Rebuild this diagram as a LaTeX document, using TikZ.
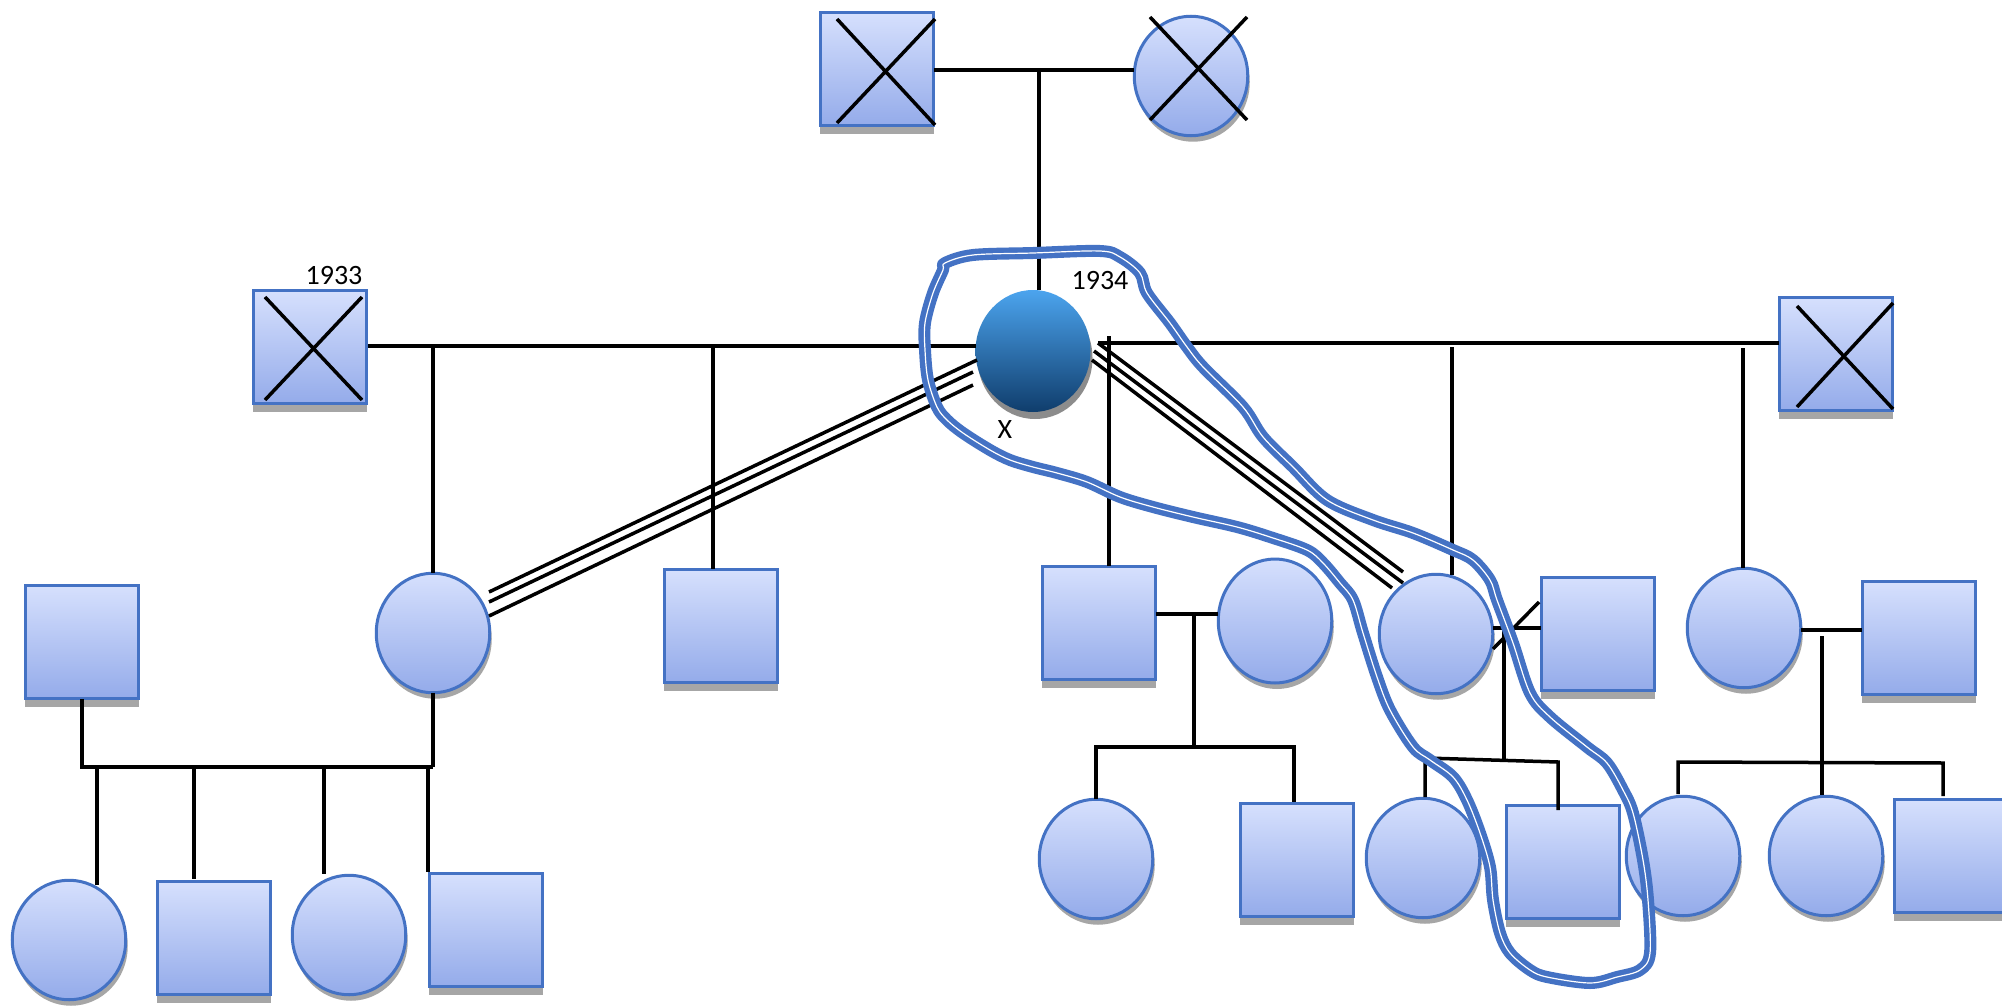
\documentclass[tikz,border=0pt]{standalone}
\usepackage{fontspec}
\setmainfont{Carlito}
\usetikzlibrary{shapes.geometric,shadows,calc}
\definecolor{nodeblue}{HTML}{4472C4}
\definecolor{fillTop}{HTML}{D6E0FD}
\definecolor{fillBot}{HTML}{94ABEA}
\definecolor{probTop}{HTML}{4CA4EE}
\definecolor{probBot}{HTML}{0F3D6C}
\definecolor{shadowgrey}{HTML}{A6A6A6}
\definecolor{loopblue}{HTML}{4472C4}
\def\looppts{
 (945,263) (973,255) (1033,253) (1100,251) (1120,257) (1140,273) (1147,293)
 (1170,323) (1187,347) (1203,367) (1243,407) (1263,437) (1293,467) (1327,500)
 (1373,520) (1413,533) (1453,550) (1473,560) (1490,580) (1497,600) (1513,643)
 (1530,693) (1550,717) (1587,747) (1607,763) (1623,790) (1633,813) (1643,860)
 (1648,900) (1650,953) (1640,970) (1617,977) (1590,983) (1547,977) (1530,970)
 (1510,953) (1500,933) (1493,900) (1490,867) (1480,833) (1467,800) (1453,777)
 (1430,760) (1413,747) (1390,710) (1377,677) (1363,633) (1353,600) (1340,583)
 (1323,563) (1307,550) (1270,537) (1237,527) (1193,517) (1153,507) (1120,497)
 (1087,482) (1057,473) (1033,467) (1010,460) (990,450) (963,433) (947,420)
 (937,407) (928,380) (925,350) (925,323) (933,293) (943,270)}
\begin{document}
\begin{tikzpicture}[x=1pt,y=-1pt,
  sqr/.style={rectangle, draw=nodeblue, line width=3pt, top color=fillTop, bottom color=fillBot,
    minimum width=113.5pt, minimum height=113.5pt, inner sep=0pt, outer sep=0pt,
    drop shadow={shadow xshift=0pt, shadow yshift=-8pt, fill=shadowgrey, opacity=1}},
  crc/.style={ellipse, draw=nodeblue, line width=3pt, top color=fillTop, bottom color=fillBot,
    minimum width=113.5pt, minimum height=119.5pt, inner sep=0pt, outer sep=0pt,
    drop shadow={shadow xshift=2pt, shadow yshift=-6pt, fill=shadowgrey, opacity=1}},
  prob/.style={ellipse, draw=none, top color=probTop, bottom color=probBot,
    minimum width=115pt, minimum height=122pt, inner sep=0pt, outer sep=0pt,
    drop shadow={shadow xshift=2pt, shadow yshift=-7pt, fill=black!45, opacity=1}},
  ln/.style={line width=3.5pt, black},
  crossln/.style={line width=3.5pt, black},
  lbl/.style={font=\fontsize{28}{30}\selectfont, inner sep=0pt},
  handouter/.style={draw=loopblue, line width=12pt, line join=round},
  handinner/.style={draw=white, line width=1.2pt, line join=round}
]
\useasboundingbox (0,0) rectangle (2002,1006);
\fill[white] (0,0) rectangle (2002,1006);

% ---- generation I
\node[sqr] (TS) at (877,69) {};
\node[crc] (TC) at (1191,76) {};
% ---- generation II
\node[sqr] (LS) at (310,347) {};
\node[prob] (P) at (1033,351) {};
\node[sqr] (RS) at (1836,354) {};
% ---- generation III
\node[sqr] (LL) at (82,642) {};
\node[crc] (C2a) at (433,633) {};
\node[sqr] (S2b) at (721,626) {};
\node[sqr] (S2c) at (1099,623) {};
\node[crc, minimum height=124pt] (C2d) at (1275,621) {};
\node[crc] (C2e) at (1436,634) {};
\node[sqr] (S2f) at (1598,634) {};
\node[crc] (C2g) at (1744,628) {};
\node[sqr] (S2h) at (1919,638) {};
% ---- generation IV
\node[crc] (L3a) at (69,940) {};
\node[sqr] (L3b) at (214,938) {};
\node[crc] (L3c) at (349,935) {};
\node[sqr] (L3d) at (486,930) {};
\node[crc] (C3a) at (1096,859) {};
\node[sqr] (S3b) at (1297,860) {};
\node[crc] (C3c) at (1423,858) {};
\node[sqr] (S3d) at (1563,862) {};
\node[crc] (C3e) at (1683,856) {};
\node[crc] (C3f) at (1826,856) {};
\node[sqr] (S3g) at (1951,856) {};

% ---- deceased crosses
\draw[crossln] (837,19) -- (935,125) (935,19) -- (837,123);
\draw[crossln] (1150,17) -- (1247,120) (1247,17) -- (1150,120);
\draw[crossln] (265,297) -- (362,400) (362,297) -- (265,400);
\draw[crossln] (1797,306) -- (1893,409) (1893,303) -- (1797,407);

% ---- labels
\node[lbl] (t1933) at (334,276) {1933};
\node[lbl] (t1934) at (1100,281) {1934};
\node[lbl] (tX) at (1005,430) {X};

% ---- generation I marriage
\coordinate (m0) at (1039,70);
\draw[ln] (TS.east |- m0) -- (m0 -| TC.west);
\draw[ln] (m0) -- (m0 |- P.north);

% ---- proband with left husband
\coordinate (lm0) at (368,346);
\draw[ln] (lm0) -- (lm0 -| P.west);
\coordinate (lm1) at (433,346);
\draw[ln] (lm1) -- (C2a.north);
\coordinate (lm2) at (713,346);
\draw[ln] (lm2) -- (lm2 |- S2b.north);

% ---- proband with right husband
\coordinate (r0) at (1098,343);
\draw[ln] (r0) -- (r0 -| RS.west);
\coordinate (rv1) at (1109,336);
\draw[ln] (rv1) -- (rv1 |- S2c.north);
\coordinate (rv2) at (1452,347);
\draw[ln] (rv2) -- (1452,575);
\coordinate (rv3) at (1743,348);
\draw[ln] (rv3) -- (rv3 |- C2g.north);

% ---- triple lines
\coordinate (ta1) at (977,360); \coordinate (tb1) at (489,592);
\coordinate (ta2) at (973,372); \coordinate (tb2) at (489,602);
\coordinate (ta3) at (973,385); \coordinate (tb3) at (489,616);
\draw[ln] (ta1) -- (tb1) (ta2) -- (tb2) (ta3) -- (tb3);
\coordinate (ua1) at (1098,343); \coordinate (ub1) at (1403,572);
\coordinate (ua2) at (1094,351); \coordinate (ub2) at (1403,583);
\coordinate (ua3) at (1092,360); \coordinate (ub3) at (1392,588);
\draw[ln] (ua1) -- (ub1) (ua2) -- (ub2) (ua3) -- (ub3);

% ---- family S2c + C2d
\coordinate (f1) at (1194,614);
\coordinate (f1b) at (1194,747);
\draw[ln] (f1 -| S2c.east) -- (f1 -| C2d.west);
\draw[ln] (f1) -- (f1b);
\draw[ln] (C3a.north) |- (f1b);
\draw[ln] (f1b) -- (1294,747) -- (1294,802);

% ---- family C2e + S2f (separated)
\coordinate (f2) at (1504,628);
\coordinate (f2b) at (1504,760);
\draw[ln] (f2 -| C2e.east) -- (f2 -| S2f.west);
\draw[ln] (1493,649) -- (1539,602);
\draw[ln] (f2) -- (f2b);
\draw[ln] (1425,797) -- (1425,758) -- (1558,762) -- (1558,810);

% ---- family C2g + S2h
\coordinate (f3) at (1822,630);
\draw[ln] (f3 -| C2g.east) -- (f3 -| S2h.west);
\draw[ln] (1822,636) -- (1822,795);
\draw[ln] (1678,794) -- (1678,762) -- (1943,763) -- (1943,796);

% ---- family LL + C2a
\coordinate (g0) at (82,767);
\coordinate (g1) at (433,767);
\draw[ln] (LL.south) -- (g0) -- (g1);
\draw[ln] (C2a.south) -- (g1);
\draw[ln] (97,767) -- (97,885);
\draw[ln] (194,769) -- (194,879);
\draw[ln] (324,769) -- (324,874);
\draw[ln] (428,769) -- (428,872);

% ---- hand-drawn loop
\draw[handouter] plot[smooth cycle, tension=0.55] coordinates {\looppts};
\draw[handinner] plot[smooth cycle, tension=0.55] coordinates {\looppts};
\end{tikzpicture}
\end{document}
